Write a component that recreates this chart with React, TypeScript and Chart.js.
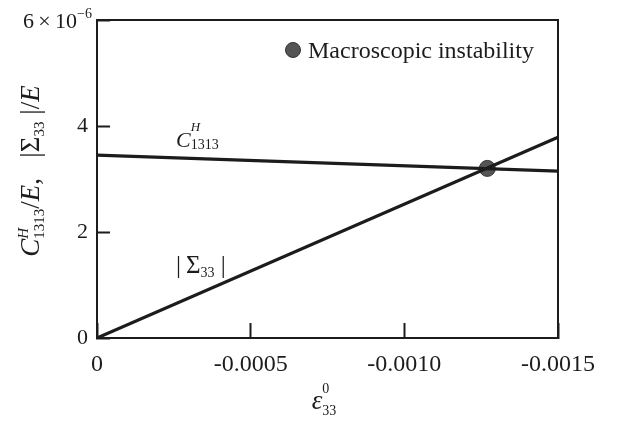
import React, { useEffect, useRef } from "react";
import { Chart, registerables } from "chart.js";

Chart.register(...registerables);

// ---- data ----
const strain = [0, -0.0015];
const c1313 = [3.45e-6, 3.15e-6];
const sigma33 = [0, 3.79e-6];
const instabilityStrain = [-0.00127];
const instabilityValue = [3.2e-6];
const xTickValues = [0, -0.0005, -0.001, -0.0015];
const yTickValues = [0, 2e-6, 4e-6, 6e-6];
const legendLabel = "Macroscopic instability";

const SERIF = '"Liberation Serif", "Times New Roman", serif';
const INK = "#1c1c1c";

type Run = { t: string; font: string; dy?: number; adv?: boolean };

function drawRuns(ctx: CanvasRenderingContext2D, runs: Run[], x: number, y: number, align: "left" | "center" | "right") {
  let total = 0;
  const widths: number[] = [];
  for (const r of runs) {
    ctx.font = r.font;
    const w = ctx.measureText(r.t).width;
    widths.push(w);
    if (r.adv !== false) total += w;
  }
  let cx = align === "center" ? x - total / 2 : align === "right" ? x - total : x;
  ctx.textAlign = "left";
  ctx.textBaseline = "alphabetic";
  runs.forEach((r, i) => {
    ctx.font = r.font;
    ctx.fillText(r.t, cx, y + (r.dy || 0));
    if (r.adv !== false) cx += widths[i];
  });
}

const f = (size: number, italic = false) => `${italic ? "italic " : ""}${size}px ${SERIF}`;

const decorPlugin = {
  id: "decor",
  afterDraw(chart: any) {
    const ctx: CanvasRenderingContext2D = chart.ctx;
    const a = chart.chartArea;
    const ys = chart.scales.y;
    ctx.save();
    // frame
    ctx.strokeStyle = INK;
    ctx.lineWidth = 2;
    ctx.strokeRect(a.left, a.top, a.right - a.left, a.bottom - a.top);
    ctx.fillStyle = INK;

    // top tick label 6 x 10^-6
    const y6 = ys.getPixelForValue(yTickValues[3]);
    drawRuns(ctx, [
      { t: "6\u2009\u00d7\u200910", font: f(22) },
      { t: "\u22126", font: f(14), dy: -10 },
    ], a.left - 5, y6 + 8, "right");

    // y title (rotated)
    ctx.save();
    ctx.translate(39, 171);
    ctx.rotate(-Math.PI / 2);
    drawRuns(ctx, [
      { t: "C", font: f(27, true) },
      { t: "H", font: f(15, true), dy: -11, adv: false },
      { t: "1313", font: f(15), dy: 5 },
      { t: "/", font: f(27) },
      { t: "E", font: f(27, true) },
      { t: ",   |", font: f(27) },
      { t: "\u03a3", font: f(27) },
      { t: "33", font: f(15), dy: 5 },
      { t: " |/", font: f(27) },
      { t: "E", font: f(27, true) },
    ], 0, 0, "center");
    ctx.restore();

    // x title
    drawRuns(ctx, [
      { t: "\u03b5", font: f(27, true) },
      { t: "0", font: f(14), dy: -16, adv: false },
      { t: "33", font: f(14), dy: 6 },
    ], 324, 409, "center");

    // curve annotations
    drawRuns(ctx, [
      { t: "C", font: f(22, true) },
      { t: "H", font: f(13, true), dy: -16, adv: false },
      { t: "1313", font: f(14), dy: 2 },
    ], 176, 147, "left");
    drawRuns(ctx, [
      { t: "|\u2009", font: f(25) },
      { t: "\u03a3", font: f(25) },
      { t: "33", font: f(14), dy: 4 },
      { t: " |", font: f(25) },
    ], 176, 273, "left");

    // legend
    ctx.beginPath();
    ctx.arc(293, 50, 7.5, 0, Math.PI * 2);
    ctx.fillStyle = "#555555";
    ctx.fill();
    ctx.strokeStyle = "#333333";
    ctx.lineWidth = 1;
    ctx.stroke();
    ctx.fillStyle = INK;
    drawRuns(ctx, [{ t: legendLabel, font: f(24) }], 308, 58, "left");
    ctx.restore();
  },
};

export default function App() {
  const ref = useRef<HTMLCanvasElement | null>(null);
  useEffect(() => {
    document.body.style.margin = "0";
    const canvas = ref.current!;
    const chart = new Chart(canvas, {
      type: "scatter",
      data: {
        datasets: [
          {
            label: "C1313",
            data: strain.map((x, i) => ({ x, y: c1313[i] })),
            showLine: true,
            borderColor: INK,
            borderWidth: 3.2,
            pointRadius: 0,
          },
          {
            label: "Sigma33",
            data: strain.map((x, i) => ({ x, y: sigma33[i] })),
            showLine: true,
            borderColor: INK,
            borderWidth: 3.2,
            pointRadius: 0,
          },
          {
            label: legendLabel,
            data: instabilityStrain.map((x, i) => ({ x, y: instabilityValue[i] })),
            pointRadius: 8,
            backgroundColor: "#555555",
            borderColor: "#333333",
            borderWidth: 1,
          },
        ],
      },
      options: {
        responsive: false,
        devicePixelRatio: 1,
        animation: false,
        layout: { padding: { left: 0, top: 20, right: 61, bottom: 0 } },
        plugins: { legend: { display: false }, tooltip: { enabled: false } },
        scales: {
          x: {
            type: "linear",
            reverse: true,
            min: -0.0015,
            max: 0,
            afterFit: (s: any) => { s.height = 83; s.paddingLeft = 0; s.paddingRight = 0; },
            afterBuildTicks: (s: any) => { s.ticks = xTickValues.map((v) => ({ value: v })); },
            grid: { drawOnChartArea: false, drawTicks: true, tickLength: -15, tickWidth: 2, color: INK },
            border: { display: true, color: INK, width: 2 },
            ticks: {
              color: INK,
              font: { family: SERIF, size: 24 },
              padding: 27,
              maxRotation: 0,
              callback: (v: any) => (Math.abs(v) < 1e-12 ? "0" : Number(v).toFixed(4)),
            },
          },
          y: {
            type: "linear",
            min: 0,
            max: 6e-6,
            afterFit: (s: any) => { s.width = 97; s.paddingTop = 0; s.paddingBottom = 0; },
            afterBuildTicks: (s: any) => { s.ticks = yTickValues.map((v) => ({ value: v })); },
            grid: { drawOnChartArea: false, drawTicks: true, tickLength: -13, tickWidth: 2, color: INK },
            border: { display: true, color: INK, width: 2 },
            ticks: {
              color: INK,
              font: { family: SERIF, size: 22 },
              padding: 22,
              callback: (v: any) => {
                const n = Math.round(Number(v) / 1e-6);
                return n === 6 ? "" : String(n);
              },
            },
          },
        },
      },
      plugins: [decorPlugin],
    } as any);
    return () => chart.destroy();
  }, []);
  return (
    <div style={{ position: "fixed", left: 0, top: 0, width: 619, height: 421, background: "#fff" }}>
      <canvas ref={ref} width={619} height={421} />
    </div>
  );
}
